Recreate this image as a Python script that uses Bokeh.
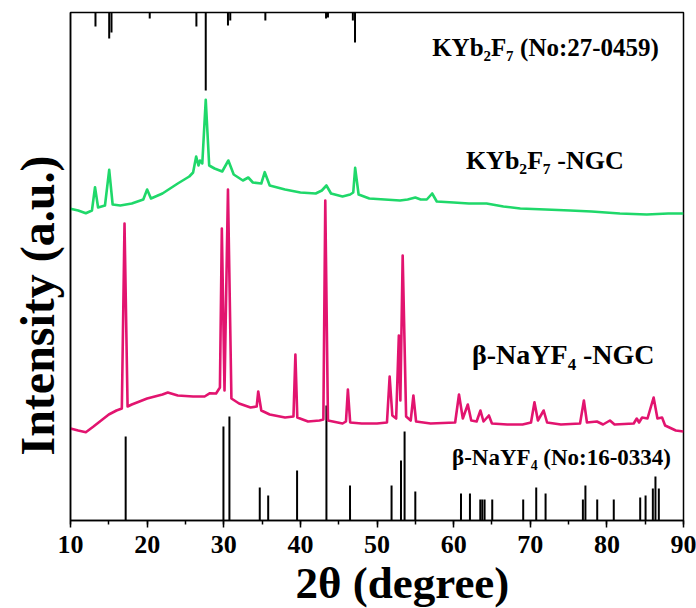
from bokeh.plotting import figure
from bokeh.models import Range1d, SingleIntervalTicker, FixedTicker, LinearAxis, Label, Title
from bokeh.embed import file_html
from bokeh.resources import INLINE

# ---------------- data ----------------
x_ticks = [10, 20, 30, 40, 50, 60, 70, 80, 90]

# KYb2F7 reference pattern (No:27-0459): 2theta and stick length (a.u., hanging from top)
kyb_ref_pos = [13.26, 15.05, 15.35, 20.34, 26.43, 27.65, 30.55, 30.85, 35.43, 43.35, 43.6, 46.85, 47.13]
kyb_ref_len = [14, 26, 20, 6, 14, 78, 13, 8, 8, 6, 5, 8, 30]

# KYb2F7-NGC measured pattern
kyb_ngc_x = [10.0, 11.0, 12.0, 12.8, 13.2, 13.6, 14.5, 15.05, 15.5, 16.5, 18.0, 19.5, 20.0, 20.5,
             22.0, 24.0, 25.5, 26.0, 26.4, 26.7, 26.9, 27.2, 27.65, 28.1, 28.8, 29.8, 30.6, 31.3,
             32.5, 33.2, 33.8, 34.9, 35.35, 36.0, 38.0, 40.0, 42.0, 42.8, 43.4, 44.0, 45.5, 46.5,
             46.9, 47.15, 47.6, 49.0, 51.0, 53.0, 54.0, 55.0, 55.7, 56.5, 57.2, 57.8, 60.0, 62.0,
             64.3, 66.5, 68.7, 72.0, 75.2, 78.0, 81.7, 85.2, 88.0, 90.0]
kyb_ngc_y = [311.7, 310, 307.3, 310, 333.3, 313, 315, 350.7, 316, 315, 317, 321, 331, 322,
             327, 337, 344, 348, 364, 355, 360, 357, 420.7, 355, 352, 349, 360, 346,
             340, 343, 338, 337, 348.3, 335, 331, 328, 327, 330, 335, 327, 324, 326,
             328, 352.7, 326, 322, 321, 320, 321, 323, 321, 321, 327, 319, 318, 317,
             317, 314, 312, 311, 310, 309, 307, 306, 307, 307]

# beta-NaYF4-NGC measured pattern
nay_ngc_x = [10.0, 11.0, 12.0, 13.0, 14.0, 15.0, 16.0, 16.7, 17.05, 17.45, 18.0, 20.0, 22.0, 22.7,
             24.0, 26.0, 27.5, 28.2, 29.0, 29.5, 29.75, 30.1, 30.55, 31.0, 32.0, 33.5, 34.3, 34.5,
             34.9, 36.0, 38.0, 39.1, 39.35, 39.6, 41.0, 42.5, 43.0, 43.25, 43.6, 45.5, 45.95, 46.2,
             46.5, 48.0, 50.0, 51.3, 51.65, 52.0, 52.5, 52.85, 53.05, 53.35, 53.8, 54.4, 54.75, 55.1,
             57.0, 60.2, 60.7, 61.2, 61.85, 62.3, 63.0, 63.5, 63.9, 64.6, 65.0, 67.0, 69.0, 70.1,
             70.55, 71.0, 71.75, 72.2, 74.0, 76.5, 77.0, 77.4, 78.7, 79.5, 80.4, 81.0, 83.5, 83.9,
             84.2, 84.6, 85.3, 86.1, 86.6, 87.2, 87.6, 89.0, 90.0]
nay_ngc_y = [92, 90, 88.3, 94, 100, 106, 110, 112, 297, 114, 116, 122, 126, 128,
             125, 124, 124, 127.3, 127, 133, 292, 130, 331, 122, 117, 113, 114, 129,
             110, 106, 103, 104, 166, 103, 99, 100, 101, 320, 100, 97, 99, 131,
             98, 97, 97, 98, 144, 105, 102, 185, 120, 265, 104, 100, 125, 99,
             97, 98, 126, 102, 116, 100, 99, 110, 99, 105, 97, 96, 96, 98,
             118.3, 100, 110, 98, 96, 97, 120, 98, 99, 96, 100, 96, 97, 102,
             98, 103, 102, 123, 102, 103, 95, 90, 89]

# beta-NaYF4 reference pattern (No:16-0334): 2theta and stick height (a.u.)
nay_ref_pos = [17.2, 29.96, 30.74, 34.7, 35.8, 39.57, 43.4, 46.48, 51.9, 53.13, 53.6, 55.0,
               60.96, 62.13, 63.48, 63.74, 64.04, 65.04, 69.08, 70.78, 72.0, 76.87, 77.2,
               78.74, 80.9, 84.35, 85.05, 86.0, 86.34, 86.78]
nay_ref_h = [84, 94, 104, 33, 25, 50, 115, 35, 35, 60, 89, 29,
             27, 27, 21, 21, 21, 21, 21, 33, 27, 21, 35,
             21, 21, 23, 25, 32, 44, 32]

Y_TOP = 508
GREEN = "#1fd86a"
MAGENTA = "#e2146f"
FONT = "Liberation Serif"

# ---------------- figure ----------------
p = figure(width=696, height=608, x_range=Range1d(10, 90), y_range=Range1d(0, Y_TOP),
           output_backend="svg", toolbar_location=None, x_axis_location=None,
           y_axis_location=None, min_border_left=70, min_border_right=13,
           min_border_top=12, min_border_bottom=88)
p.grid.visible = False
p.background_fill_color = "white"
p.border_fill_color = "white"
p.outline_line_color = "black"
p.outline_line_width = 1.5

xaxis = LinearAxis(ticker=SingleIntervalTicker(interval=10, num_minor_ticks=2))
xaxis.major_label_overrides = {t: str(t) for t in x_ticks}
xaxis.axis_line_width = 1.5
xaxis.major_tick_line_width = 1.5
xaxis.minor_tick_line_width = 1.5
xaxis.major_tick_in = 0
xaxis.major_tick_out = 7
xaxis.minor_tick_in = 0
xaxis.minor_tick_out = 4
xaxis.major_label_text_font = FONT
xaxis.major_label_text_font_style = "bold"
xaxis.major_label_text_font_size = "26px"
xaxis.major_label_text_color = "black"
xaxis.major_label_standoff = 8
p.add_layout(xaxis, "below")

yaxis = LinearAxis(ticker=FixedTicker(ticks=[]))
yaxis.axis_line_width = 1.5
yaxis.major_label_text_font_size = "0px"
p.add_layout(yaxis, "left")

yt = Title(text="Intensity (a.u.)", align="left", offset=65, text_font=FONT,
           text_font_style="bold", text_font_size="48px", text_color="black", standoff=14)
p.add_layout(yt, "left")

xt = Title(text="2θ (degree)", align="left", offset=225, text_font=FONT,
           text_font_style="bold", text_font_size="45px", text_color="black", standoff=0)
p.add_layout(xt, "below")

# reference sticks
p.segment(x0=kyb_ref_pos, y0=[Y_TOP] * len(kyb_ref_pos), x1=kyb_ref_pos,
          y1=[Y_TOP - l for l in kyb_ref_len], line_color="black", line_width=2)
p.segment(x0=nay_ref_pos, y0=[0] * len(nay_ref_pos), x1=nay_ref_pos,
          y1=nay_ref_h, line_color="black", line_width=2)

# measured patterns
p.line(kyb_ngc_x, kyb_ngc_y, line_color=GREEN, line_width=2.6, line_join="round")
p.line(nay_ngc_x, nay_ngc_y, line_color=MAGENTA, line_width=2.6, line_join="round")

def lab(x, y, txt, size):
    p.add_layout(Label(x=x, y=y, text=txt, text_font=FONT, text_font_style="bold",
                       text_font_size=size, text_color="black", text_baseline="middle",
                       text_align="left"))

lab(57.2, 473, "KYb₂F₇ (No:27-0459)", "25px")
lab(61.6, 360, "KYb₂F₇ -NGC", "26px")
lab(62.4, 166, "β-NaYF₄ -NGC", "28px")
lab(59.8, 63, "β-NaYF₄ (No:16-0334)", "23px")

open("out.html", "w").write(file_html(p, INLINE))
